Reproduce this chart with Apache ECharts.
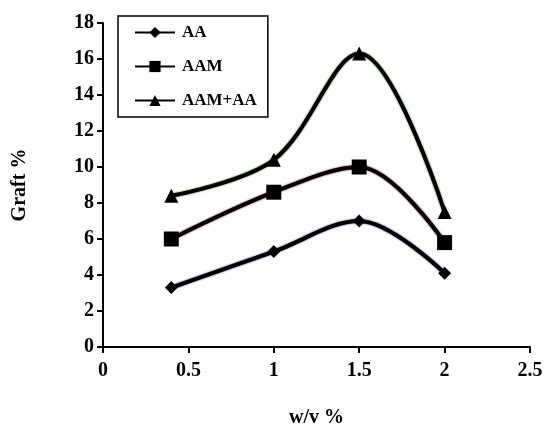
<!DOCTYPE html>
<html><head><meta charset="utf-8">
<script src="https://cdn.jsdelivr.net/npm/echarts@6/dist/echarts.min.js"></script>
<style>html,body{margin:0;padding:0;background:#fff}#c{width:551px;height:429px}</style>
</head><body><div id="c"></div>
<script>
const xValues = [0.4, 1.0, 1.5, 2.0];
const seriesNames = ['AA', 'AAM', 'AAM+AA'];
const aaValues = [3.3, 5.3, 7.0, 4.1];
const aamValues = [6.0, 8.6, 10.0, 5.8];
const aamAaValues = [8.4, 10.4, 16.3, 7.5];
const xTicks = [0, 0.5, 1, 1.5, 2, 2.5];
const yTicks = [0, 2, 4, 6, 8, 10, 12, 14, 16, 18];

const font = 'Liberation Serif';
const chart = echarts.init(document.getElementById('c'));
function pts(vals){ return xValues.map((x,i)=>[x, vals[i]]); }
const symbols = ['diamond','rect','triangle'];
const sizes = [13, 15, 14];
const edge = ['#1a2a7a','#7a1a1a','#3a6a1a'];
const all = [aaValues, aamValues, aamAaValues];
chart.setOption({
  animation: false,
  backgroundColor: '#fff',
  grid: {left: 103, right: 21, top: 23, bottom: 82, outerBoundsMode: 'none', containLabel: false},
  xAxis: {
    type: 'value', min: 0, max: 2.5, interval: 0.5,
    name: 'w/v %', nameLocation: 'middle', nameGap: 61,
    nameTextStyle: {fontFamily: font, fontWeight: 'bold', fontSize: 20, color: '#000'},
    axisLine: {lineStyle: {color: '#000', width: 2}},
    axisTick: {show: true, length: 6, lineStyle: {color: '#000', width: 2}},
    axisLabel: {fontFamily: font, fontWeight: 'bold', fontSize: 20, color: '#000', margin: 14,
      formatter: v => xTicks.includes(v) ? String(v) : ''},
    splitLine: {show: false}
  },
  yAxis: {
    type: 'value', min: 0, max: 18, interval: 2,
    name: 'Graft %', nameLocation: 'middle', nameGap: 73, nameRotate: 90,
    nameTextStyle: {fontFamily: font, fontWeight: 'bold', fontSize: 20, color: '#000'},
    axisLine: {show: true, lineStyle: {color: '#000', width: 2}},
    axisTick: {show: true, length: 6, lineStyle: {color: '#000', width: 2}},
    axisLabel: {fontFamily: font, fontWeight: 'bold', fontSize: 20, color: '#000', margin: 9,
      formatter: v => yTicks.includes(v) ? String(v) : ''},
    splitLine: {show: false}
  },
  legend: {
    orient: 'vertical', left: 118, top: 16,
    itemWidth: 40, itemHeight: 14, itemGap: 17,
    padding: [8, 11, 8, 16],
    borderColor: '#000', borderWidth: 1.5,
    textStyle: {fontFamily: font, fontWeight: 'bold', fontSize: 17, color: '#000', padding: [0, 0, 0, 2]},
    data: seriesNames
  },
  series: seriesNames.map((n, i) => ({
    name: n, type: 'line', smooth: 0.35,
    data: pts(all[i]),
    symbol: symbols[i], symbolSize: sizes[i],
    lineStyle: {color: '#000', width: 4, shadowColor: edge[i], shadowBlur: 2},
    itemStyle: {color: '#000'}
  }))
});
</script></body></html>
